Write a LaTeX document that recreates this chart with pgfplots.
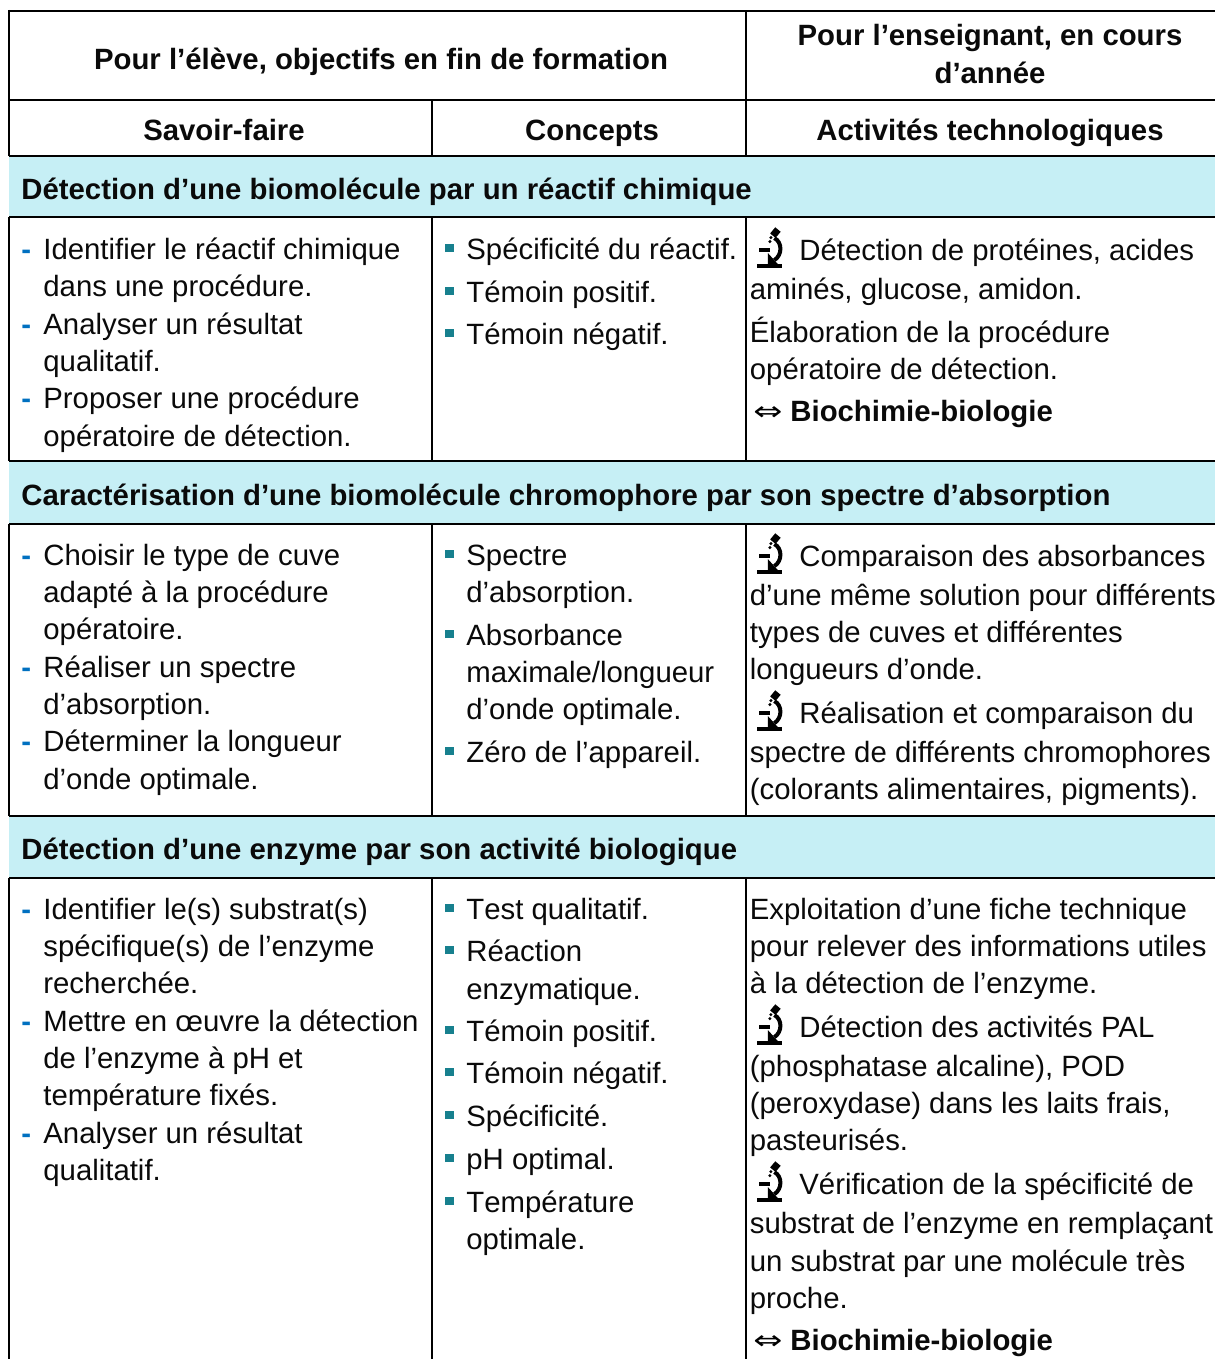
\documentclass[border=0pt]{standalone}
\usepackage{pgfplots}
\pgfplotsset{compat=1.18}
\usepackage{graphicx}
\usepackage{fontspec}
\setmainfont{Liberation Sans}
\newfontfamily\dejavu{DejaVu Sans}
\definecolor{band}{HTML}{C6EFF5}
\definecolor{dashc}{HTML}{0070C0}
\definecolor{bulletc}{HTML}{17808E}
\definecolor{ink}{HTML}{0A0A0A}
\newcommand{\fs}{\fontsize{14.67}{17}\selectfont}
\newcommand{\T}[3]{\node[anchor=base west,inner sep=0pt,text=ink,font=\fs] at (axis cs:#1,#2) {#3};}
\newcommand{\B}[3]{\node[anchor=base west,inner sep=0pt,text=ink,font=\fs\bfseries] at (axis cs:#1,#2) {#3};}
\newcommand{\C}[3]{\node[anchor=base,inner sep=0pt,text=ink,font=\fs\bfseries] at (axis cs:#1,#2) {#3};}
\newcommand{\D}[2]{\node[anchor=base west,inner sep=0pt,text=dashc,font=\fs\bfseries] at (axis cs:21,#1) {-};\T{43}{#1}{#2}}
\newcommand{\Q}[2]{\node[anchor=base west,inner sep=0pt] at (axis cs:445,#1-7) {\textcolor{bulletc}{\rule{4.2pt}{4.2pt}}};\T{466}{#1}{#2}}
\newsavebox{\micbox}
\newcommand{\M}[1]{\node[anchor=south west,inner sep=0pt] at (axis cs:757,#1+8.5) {\usebox{\micbox}};}
\newcommand{\Arrow}[1]{\node[anchor=base west,inner sep=0pt,font=\dejavu\fontsize{12}{14}\selectfont] at (axis cs:753,#1-1) {\scalebox{1.45}[1.1]{⇔}};\B{790}{#1}{Biochimie-biologie}}
\begin{document}
\sbox{\micbox}{\begin{tikzpicture}[x=0.5pt,y=0.5pt]
  \path[use as bounding box] (0,0) rectangle (25,40);
  \fill (0,0) rectangle (25,4.5);
  \fill (1.7,16.5) rectangle (12.5,20.5);
  \fill (10.5,15) -- (20.5,4) -- (10.5,4) -- cycle;
  \draw[line width=2pt] (17,30) .. controls (25,26) and (25,13) .. (17,8);
  \fill[rotate around={50:(18,35.5)}] (14,32) rectangle (22,39);
  \fill (12.5,26.5) circle (1.7);
  \fill (13.5,30.5) circle (1.7);
\end{tikzpicture}}%
\begin{tikzpicture}
\useasboundingbox (0,0) rectangle (607.5pt,679.5pt);
\begin{axis}[
  scale only axis, width=607.5pt, height=679.5pt,
  xmin=0, xmax=1215, ymin=0, ymax=1359, y dir=reverse,
  hide axis, clip=false]
% bands
\addplot[fill=band,draw=none] coordinates {(9,156)(1215,156)(1215,217)(9,217)} -- cycle;
\addplot[fill=band,draw=none] coordinates {(9,462)(1215,462)(1215,524)(9,524)} -- cycle;
\addplot[fill=band,draw=none] coordinates {(9,816)(1215,816)(1215,878)(9,878)} -- cycle;
% rules
\addplot[black,line width=1pt] coordinates {(9,11)(1215,11)};
\addplot[black,line width=1pt] coordinates {(9,100)(1215,100)};
\addplot[black,line width=1pt] coordinates {(9,156)(1215,156)};
\addplot[black,line width=1pt] coordinates {(9,217)(1215,217)};
\addplot[black,line width=1pt] coordinates {(9,461)(1215,461)};
\addplot[black,line width=1pt] coordinates {(9,524)(1215,524)};
\addplot[black,line width=1pt] coordinates {(9,816)(1215,816)};
\addplot[black,line width=1pt] coordinates {(9,878)(1215,878)};
\addplot[black,line width=1pt] coordinates {(9,10)(9,156)};
\addplot[black,line width=1pt] coordinates {(9,217)(9,461)};
\addplot[black,line width=1pt] coordinates {(9,524)(9,816)};
\addplot[black,line width=1pt] coordinates {(9,878)(9,1359)};
\addplot[black,line width=1pt] coordinates {(746,11)(746,156)};
\addplot[black,line width=1pt] coordinates {(746,217)(746,461)};
\addplot[black,line width=1pt] coordinates {(746,524)(746,816)};
\addplot[black,line width=1pt] coordinates {(746,878)(746,1359)};
\addplot[black,line width=1pt] coordinates {(432,100)(432,156)};
\addplot[black,line width=1pt] coordinates {(432,217)(432,461)};
\addplot[black,line width=1pt] coordinates {(432,524)(432,816)};
\addplot[black,line width=1pt] coordinates {(432,878)(432,1359)};
% headers
\C{381}{70}{Pour l’élève, objectifs en fin de formation}
\C{990}{46}{Pour l’enseignant, en cours}
\C{990}{84}{d’année}
\C{224}{140.6}{Savoir-faire}
\C{592}{140.6}{Concepts}
\C{990}{140.6}{Activités technologiques}
% section 1
\B{21}{199}{Détection d’une biomolécule par un réactif chimique}
\D{259}{Identifier le réactif chimique}
\T{43}{296}{dans une procédure.}
\D{334}{Analyser un résultat}
\T{43}{371}{qualitatif.}
\D{408}{Proposer une procédure}
\T{43}{446}{opératoire de détection.}
\Q{259}{Spécificité du réactif.}
\Q{302}{Témoin positif.}
\Q{344}{Témoin négatif.}
\M{260}
\T{799}{260}{Détection de protéines, acides}
\T{749.5}{299}{aminés, glucose, amidon.}
\T{749.5}{342}{Élaboration de la procédure}
\T{749.5}{379}{opératoire de détection.}
\Arrow{421}
% section 2
\B{21}{505}{Caractérisation d’une biomolécule chromophore par son spectre d’absorption}
\D{565}{Choisir le type de cuve}
\T{43}{602}{adapté à la procédure}
\T{43}{639}{opératoire.}
\D{677}{Réaliser un spectre}
\T{43}{714}{d’absorption.}
\D{751}{Déterminer la longueur}
\T{43}{789}{d’onde optimale.}
\Q{565}{Spectre}
\T{466}{602}{d’absorption.}
\Q{645}{Absorbance}
\T{466}{682}{maximale/longueur}
\T{466}{719}{d’onde optimale.}
\Q{762}{Zéro de l’appareil.}
\M{566}
\T{799}{566}{Comparaison des absorbances}
\T{749.5}{605}{d’une même solution pour différents}
\T{749.5}{642}{types de cuves et différentes}
\T{749.5}{679}{longueurs d’onde.}
\M{723}
\T{799}{723}{Réalisation et comparaison du}
\T{749.5}{762}{spectre de différents chromophores}
\T{749.5}{799}{(colorants alimentaires, pigments).}
% section 3
\B{21}{859}{Détection d’une enzyme par son activité biologique}
\D{919}{Identifier le(s) substrat(s)}
\T{43}{956}{spécifique(s) de l’enzyme}
\T{43}{993}{recherchée.}
\D{1031}{Mettre en œuvre la détection}
\T{43}{1068}{de l’enzyme à pH et}
\T{43}{1105}{température fixés.}
\D{1143}{Analyser un résultat}
\T{43}{1180}{qualitatif.}
\Q{919}{T\kern0pt est qualitatif.}
\Q{961}{Réaction}
\T{466}{999}{enzymatique.}
\Q{1041}{Témoin positif.}
\Q{1083}{Témoin négatif.}
\Q{1126}{Spécificité.}
\Q{1169}{pH optimal.}
\Q{1212}{T\kern0pt empérature}
\T{466}{1249}{optimale.}
\T{749.5}{919}{Exploitation d’une fiche technique}
\T{749.5}{956}{pour relever des informations utiles}
\T{749.5}{993}{à la détection de l’enzyme.}
\M{1037}
\T{799}{1037}{Détection des activités PAL}
\T{749.5}{1076}{(phosphatase alcaline), POD}
\T{749.5}{1113}{(peroxydase) dans les laits frais,}
\T{749.5}{1150}{pasteurisés.}
\M{1194}
\T{799}{1194}{Vérification de la spécificité de}
\T{749.5}{1233}{substrat de l’enzyme en remplaçant}
\T{749.5}{1271}{un substrat par une molécule très}
\T{749.5}{1308}{proche.}
\Arrow{1350}
\end{axis}
\end{tikzpicture}
\end{document}
